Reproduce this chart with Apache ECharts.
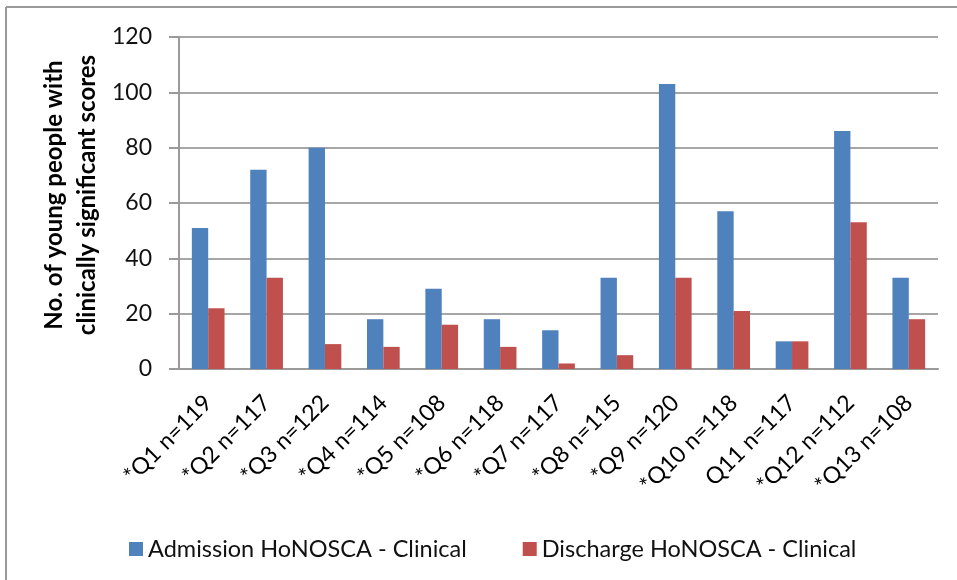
<!DOCTYPE html>
<html lang="en">
<head>
    <meta charset="UTF-8">
    <title>HoNOSCA clinically significant scores</title>
    <script src="https://cdn.jsdelivr.net/npm/echarts@6/dist/echarts.min.js"></script>
    <style>
        html, body { margin: 0; padding: 0; background: #fff; }
        #chart-container { width: 957px; height: 580px; }
    </style>
</head>
<body>
    <div id="chart-container"></div>
    <script>
        var categories = ['*Q1 n=119', '*Q2 n=117', '*Q3 n=122', '*Q4 n=114', '*Q5 n=108', '*Q6 n=118',
            '*Q7 n=117', '*Q8 n=115', '*Q9 n=120', '*Q10 n=118', 'Q11 n=117', '*Q12 n=112', '*Q13 n=108'];
        var admission = [51, 72, 80, 18, 29, 18, 14, 33, 103, 57, 10, 86, 33];
        var discharge = [22, 33, 9, 8, 16, 8, 2, 5, 33, 21, 10, 53, 18];
        var yTicks = [0, 20, 40, 60, 80, 100, 120];

        var font = "Lato, 'Open Sans', sans-serif";

        var myChart = echarts.init(document.getElementById('chart-container'));

        var option = {
            animation: false,
            backgroundColor: '#fff',
            textStyle: { fontFamily: font },
            grid: {
                left: 179,
                right: 19,
                top: 37,
                bottom: 211
            },
            legend: {
                left: 124,
                top: 532,
                itemWidth: 14,
                itemHeight: 14,
                itemGap: 56,
                icon: 'rect',
                textStyle: { fontSize: 23.5, color: '#111', fontFamily: font },
                data: ['Admission HoNOSCA - Clinical', 'Discharge HoNOSCA - Clinical']
            },
            xAxis: {
                type: 'category',
                data: categories,
                axisLine: { lineStyle: { color: '#9a9a9a', width: 2 } },
                axisTick: { show: false },
                axisLabel: {
                    rotate: 45,
                    margin: 30,
                    fontSize: 23,
                    color: '#000',
                    interval: 0
                }
            },
            yAxis: {
                type: 'value',
                min: 0,
                max: 120,
                interval: 20,
                axisLine: { show: true, lineStyle: { color: '#9a9a9a', width: 2 } },
                axisTick: { show: true, length: 10, lineStyle: { color: '#9a9a9a', width: 2 } },
                axisLabel: {
                    margin: 27,
                    fontSize: 23,
                    color: '#111',
                    formatter: function (v) { return yTicks.indexOf(v) >= 0 ? String(v) : ''; }
                },
                splitLine: { lineStyle: { color: '#a6a6a6', width: 2 } }
            },
            series: [{
                name: 'Admission HoNOSCA - Clinical',
                type: 'bar',
                data: admission,
                barGap: '0%',
                barCategoryGap: '44%',
                itemStyle: { color: '#4F81BD' }
            }, {
                name: 'Discharge HoNOSCA - Clinical',
                type: 'bar',
                data: discharge,
                itemStyle: { color: '#C0504D' }
            }],
            graphic: [{
                type: 'line',
                shape: { x1: 6, y1: 7, x2: 957, y2: 7 },
                style: { stroke: '#999', lineWidth: 2 }
            }, {
                type: 'line',
                shape: { x1: 6, y1: 7, x2: 6, y2: 580 },
                style: { stroke: '#999', lineWidth: 2 }
            }, {
                type: 'text',
                x: 71,
                y: 195,
                rotation: Math.PI / 2,
                style: {
                    text: 'No. of young people with\nclinically significant scores',
                    fontFamily: font,
                    fontWeight: 'bold',
                    fontSize: 24,
                    lineHeight: 33,
                    fill: '#000',
                    textAlign: 'center',
                    textVerticalAlign: 'middle'
                }
            }]
        };

        myChart.setOption(option);
    </script>
</body>
</html>
